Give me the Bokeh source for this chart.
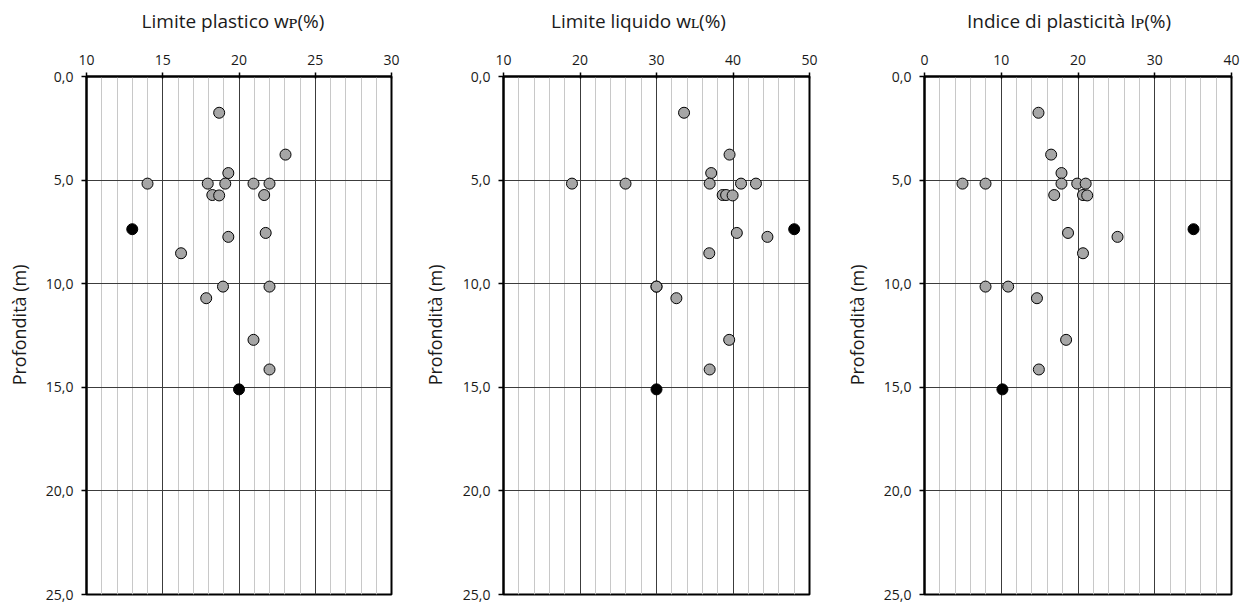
import math
from bokeh.plotting import figure
from bokeh.layouts import row, column
from bokeh.models import Range1d, FixedTicker, ColumnDataSource
from bokeh.core.properties import value
from bokeh.embed import file_html
from bokeh.resources import INLINE

# ---- data ----
profondita_m = [1.75, 3.77, 4.66, 5.17, 5.17, 5.17, 5.17, 5.17, 5.72, 5.72, 5.74,
                7.37, 7.55, 7.74, 8.53, 10.14, 10.14, 10.70, 12.71, 14.14, 15.10]
limite_plastico = [18.7, 23.05, 19.3, 14.0, 17.95, 19.1, 20.95, 22.0, 21.65, 18.25, 18.7,
                   13.0, 21.75, 19.3, 16.2, 18.95, 22.0, 17.85, 20.95, 22.0, 20.0]
limite_liquido = [33.6, 39.55, 37.15, 18.95, 25.95, 36.95, 41.05, 43.0, 38.65, 39.1, 39.95,
                  48.0, 40.5, 44.5, 36.9, 30.0, 30.0, 32.6, 39.5, 36.95, 30.0]
indice_plasticita = [14.85, 16.5, 17.85, 4.95, 7.95, 17.85, 19.9, 21.0, 16.9, 20.65, 21.2,
                     35.05, 18.7, 25.15, 20.65, 10.9, 7.95, 14.65, 18.45, 14.9, 10.15]
evidenziato = [False] * 11 + [True] + [False] * 8 + [True]

titoli = ["Limite plastico w\u1d18(%)", "Limite liquido w\u029f(%)", "Indice di plasticit\u00e0 I\u1d18(%)"]
y_label = "Profondit\u00e0 (m)"
y_ticks = [0, 5, 10, 15, 20, 25]
y_tick_labels = ["0,0", "5,0", "10,0", "15,0", "20,0", "25,0"]
x_ticks = [[10, 15, 20, 25, 30], [10, 20, 30, 40, 50], [0, 10, 20, 30, 40]]
x_minor_step = [1, 2, 2]

FONT = "Open Sans"
TXT = "#1a1a1a"
W, H = 1248, 602
TITLE_H = 40
MAIN_H = H - TITLE_H
TOP, BOTTOM = 76 - TITLE_H, 8
LAB_W = 36

panels_series = [limite_plastico, limite_liquido, indice_plasticita]
# (panel figure width, left border, right border, title centre shift from frame centre)
borders = [(380, 50, 25, -6), (386, 51, 29, -18), (374, 50, 17, -9)]

# ---- title strip ----
title_x = []
x0 = 0
for (w, bl, br, sh) in borders:
    x0 += LAB_W
    fl = x0 + bl
    fr = x0 + w - br
    title_x.append((fl + fr) / 2 + sh)
    x0 += w

tfig = figure(width=W, height=TITLE_H, output_backend="svg", toolbar_location=None,
              x_range=Range1d(0, W), y_range=Range1d(TITLE_H, 0),
              x_axis_location=None, y_axis_location=None, min_border=0)
tfig.grid.visible = False
tfig.outline_line_color = None
tfig.text(x=title_x, y=[20] * 3, text=titoli, text_align="center", text_baseline="middle",
          text_font=value(FONT), text_font_size=value("19px"), text_color=TXT)

items = []
for i in range(3):
    w, bl, br, _ = borders[i]

    # vertical axis title strip
    lf = figure(width=LAB_W, height=MAIN_H, output_backend="svg", toolbar_location=None,
                x_range=Range1d(0, LAB_W), y_range=Range1d(0, MAIN_H),
                x_axis_location=None, y_axis_location=None, min_border=0)
    lf.grid.visible = False
    lf.outline_line_color = None
    lf.text(x=[18], y=[MAIN_H - (309.5 - TITLE_H)], text=[y_label], angle=math.pi / 2,
            text_align="center", text_baseline="middle",
            text_font=value(FONT), text_font_size=value("18px"), text_color=TXT)
    items.append(lf)

    ticks = x_ticks[i]
    lo, hi = ticks[0], ticks[-1]
    step = x_minor_step[i]
    minors = [v for v in range(lo, hi + 1, step) if v not in ticks]

    p = figure(width=w, height=MAIN_H, output_backend="svg", toolbar_location=None,
               x_axis_location="above", x_range=Range1d(lo, hi), y_range=Range1d(25, 0),
               min_border_left=bl, min_border_right=br, min_border_top=TOP, min_border_bottom=BOTTOM)

    xt = FixedTicker(ticks=ticks, minor_ticks=minors)
    p.xaxis.ticker = xt
    p.yaxis.ticker = FixedTicker(ticks=y_ticks, minor_ticks=[])
    p.xgrid.ticker = xt
    p.ygrid.ticker = FixedTicker(ticks=[5, 10, 15, 20], minor_ticks=[])

    p.xgrid.grid_line_color = "#3c3c3c"
    p.xgrid.minor_grid_line_color = "#c8c8c8"
    p.ygrid.grid_line_color = "#3c3c3c"

    for ax in (p.xaxis[0], p.yaxis[0]):
        ax.axis_line_width = 2
        ax.axis_line_color = "black"
        ax.major_tick_line_width = 1.5
        ax.major_tick_line_color = "black"
        ax.minor_tick_in = 0
        ax.minor_tick_out = 0
        ax.major_label_text_font = FONT
        ax.major_label_text_font_size = "14px"
        ax.major_label_text_color = TXT
    p.xaxis.major_tick_out = 4
    p.xaxis.major_tick_in = 2
    p.xaxis.major_label_standoff = 8
    p.yaxis.major_tick_out = 5
    p.yaxis.major_tick_in = 0
    p.yaxis.major_label_standoff = 8
    p.yaxis.major_label_overrides = {t: s for t, s in zip(y_ticks, y_tick_labels)}

    p.outline_line_color = "black"
    p.outline_line_width = 2
    p.background_fill_color = "white"
    p.border_fill_color = "white"

    vals = panels_series[i]
    gray = ColumnDataSource(dict(x=[v for v, e in zip(vals, evidenziato) if not e],
                                 y=[d for d, e in zip(profondita_m, evidenziato) if not e]))
    black = ColumnDataSource(dict(x=[v for v, e in zip(vals, evidenziato) if e],
                                  y=[d for d, e in zip(profondita_m, evidenziato) if e]))
    p.scatter("x", "y", source=gray, size=11, fill_color="#a6a6a6", line_color="black", line_width=1)
    p.scatter("x", "y", source=black, size=11, fill_color="black", line_color="black", line_width=1)
    items.append(p)

layout = column(tfig, row(*items, spacing=0), spacing=0)
open("out.html", "w").write(file_html(layout, INLINE))
